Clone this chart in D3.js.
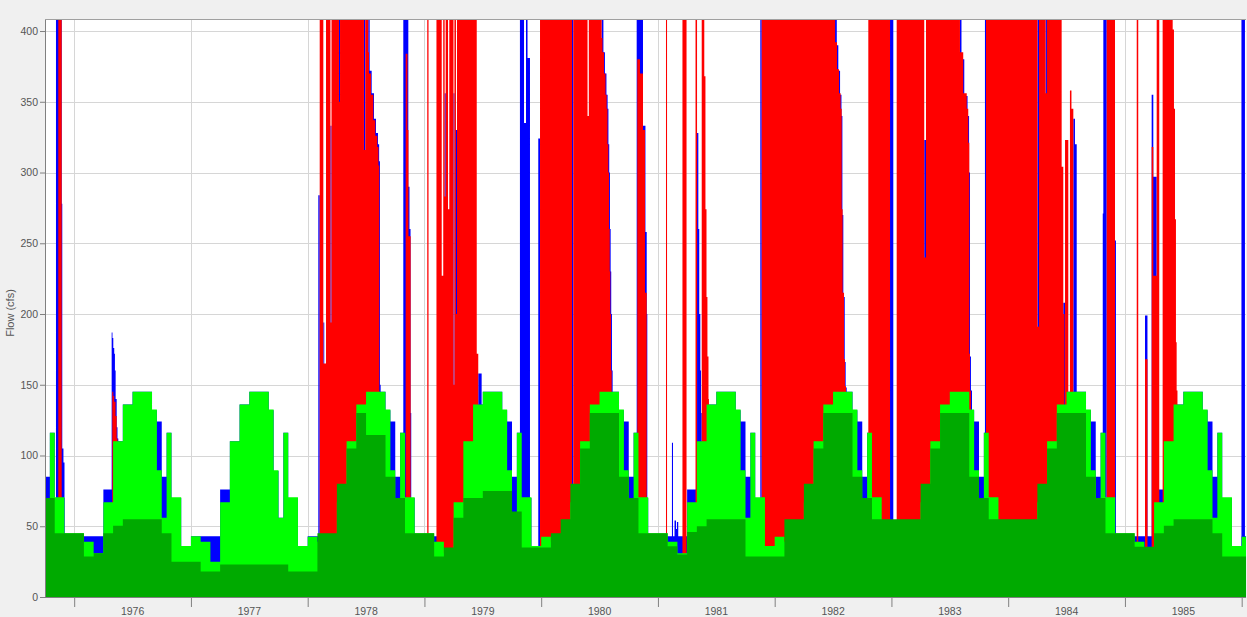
<!DOCTYPE html>
<html>
<head>
<meta charset="utf-8">
<script src="https://cdn.jsdelivr.net/npm/d3@7/dist/d3.min.js"></script>
<style>
  body { margin: 0; background: #f0f0f0; }
  svg { display: block; font-family: "Liberation Sans", Arial, sans-serif; }
</style>
</head>
<body>
<svg id="chart"></svg>
<script>
// time is in decimal years; water year rows run Oct 1, Oct 16, Nov 1 ... Sep 16 (half months)
var firstPeriod = 1975.75;
var lastTime = 1986.037;
var yearTicks = [1976, 1977, 1978, 1979, 1980, 1981, 1982, 1983, 1984, 1985, 1986];
var yearLabels = ["1976", "1977", "1978", "1979", "1980", "1981", "1982", "1983", "1984", "1985"];
var flowTicks = [0, 50, 100, 150, 200, 250, 300, 350, 400];

// light green step series (cfs), one row per water year
var lightGreenFlow = [
  [56,116, 70.5,70.5, 45,45, 45,45, 39,39, 31,31, 67,67, 110,110, 136,136, 145,145, 145,145, 132.5,89.5], // WY1976
  [56,116, 70.5,70.5, 36,36, 43,43, 39,39, 25,25, 67,67, 110,110, 136,136, 145,145, 145,145, 132.5,89.5], // WY1977
  [56,116, 70.5,70.5, 36,36, 42.5,42.5, 39,39, 31,31, 67,67, 110,110, 136,136, 145,145, 145,145, 132.5,89.5],
  [56,116, 70.5,70.5, 45,45, 45,45, 39,39, 31,31, 67,67, 110,110, 136,136, 145,145, 145,145, 132.5,89.5],
  [56,116, 70.5,70.5, 36,36, 42.5,42.5, 39,39, 31,31, 67,67, 110,110, 136,136, 145,145, 145,145, 132.5,89.5],
  [56,116, 70.5,70.5, 45,45, 45,45, 39,39, 31,31, 67,67, 110,110, 136,136, 145,145, 145,145, 132.5,89.5],
  [56,116, 70.5,70.5, 36,36, 42.5,42.5, 39,39, 31,31, 67,67, 110,110, 136,136, 145,145, 145,145, 132.5,89.5],
  [56,116, 70.5,70.5, 45,45, 45,45, 39,39, 31,31, 67,67, 110,110, 136,136, 145,145, 145,145, 132.5,89.5],
  [56,116, 70.5,70.5, 45,45, 45,45, 39,39, 31,31, 67,67, 110,110, 136,136, 145,145, 145,145, 132.5,89.5],
  [56,116, 70.5,70.5, 45,45, 45,45, 39,39, 31,31, 67,67, 110,110, 136,136, 145,145, 145,145, 132.5,89.5], // WY1985
  [56,116, 70.5,70.5, 36,36, 42.5]                                                                        // WY1986 (part)
];

// dark green step series (cfs)
var darkGreenFlow = [
  [70,70, 45,45, 45,45, 45,45, 28.7,28.7, 31,31, 45,45, 50.4,50.4, 55,55, 55,55, 55,55, 55,55],
  [45,45, 25,25, 25,25, 25,25, 18,18, 18,18, 23,23, 23,23, 23,23, 23,23, 23,23, 23,23],
  [23,23, 18,18, 18,18, 18,18, 45,45, 45,45, 80,80, 105,105, 130,130, 114.5,114.5, 114.5,114.5, 85,85],
  [70,70, 45,45, 45,45, 45,45, 28.7,28.7, 35,35, 56,56, 70,70, 70,70, 75,75, 75,75, 75,75],
  [60.5,60.5, 35,35, 35,35, 35,35, 45,45, 55,55, 80,80, 105,105, 130,130, 130,130, 130,130, 85,85],
  [70,70, 45,45, 45,45, 45,45, 35.8,35.8, 30,30, 46,46, 50,50, 55,55, 55,55, 55,55, 55,55],
  [28.7,28.7, 28.7,28.7, 28.7,28.7, 28.7,28.7, 55,55, 55,55, 80,80, 105,105, 130,130, 130,130, 130,130, 85,85],
  [70,70, 55,55, 55,55, 55,55, 55,55, 55,55, 80,80, 105,105, 130,130, 130,130, 130,130, 85,85],
  [70,70, 55,55, 55,55, 55,55, 55,55, 55,55, 80,80, 105,105, 130,130, 130,130, 130,130, 85,85],
  [70,70, 45,45, 45,45, 45,45, 35.5,35.5, 35.5,35.5, 45,45, 50.4,50.4, 55,55, 55,55, 55,55, 55,55],
  [45,45, 28.7,28.7, 28.7,28.7, 28.7]
];

// blue base flow (cfs), half-monthly
var blueBaseFlow = [
  [85,116, 70,70, 36,36, 43,43, 43,43, 43,43, 76,76, 110,110, 136,136, 145,145, 145,145, 132,124],
  [85,116, 70,70, 36,36, 43,43, 43,43, 43,43, 76,76, 110,110, 136,136, 145,145, 145,145, 132,89],
  [56,116, 70,70, 36,36, 43,43, 43,43, 43,43, 76,76, 110,110, 136,136, 145,145, 145,145, 132,124],
  [85,116, 70,70, 36,36, 43,43, 43,43, 43,43, 76,76, 110,110, 136,136, 145,145, 145,145, 132,124],
  [85,116, 70,70, 36,36, 43,43, 43,43, 43,43, 76,76, 110,110, 136,136, 145,145, 145,145, 132,124],
  [85,116, 70,70, 36,36, 43,43, 43,43, 43,43, 76,76, 110,110, 136,136, 145,145, 145,145, 132,124],
  [85,116, 70,70, 36,36, 43,43, 43,43, 43,43, 76,76, 110,110, 136,136, 145,145, 145,145, 132,124],
  [85,116, 70,70, 36,36, 43,43, 43,43, 43,43, 76,76, 110,110, 136,136, 145,145, 145,145, 132,124],
  [85,116, 70,70, 36,36, 43,43, 43,43, 43,43, 76,76, 110,110, 136,136, 145,145, 145,145, 132,124],
  [85,116, 70,70, 36,36, 43,43, 43,43, 43,43, 76,76, 110,110, 136,136, 145,145, 145,145, 132,124],
  [85,116, 70,70, 36,36, 43]
];

// storm flows, [time, cfs]; 500 = off the top of the chart
var redFlowPts = [
  [1975.864,500],[1975.893,0],
  [1976.326,145],[1976.335,142],[1976.343,138],[1976.354,128],[1976.364,112],[1976.371,0],
  [1978.103,500],[1978.134,165],[1978.157,500],[1978.195,194],[1978.204,500],[1978.268,350],[1978.277,500],
  [1978.482,316],[1978.493,500],[1978.519,385],[1978.525,370],[1978.542,355],[1978.562,337],[1978.579,326],
  [1978.596,318],[1978.606,305],[1978.613,145],[1978.619,0],
  [1978.839,384],[1978.855,330],[1978.863,255],[1978.882,0],
  [1979.024,500],[1979.035,0],
  [1979.103,500],[1979.148,227],[1979.161,500],[1979.173,283],[1979.182,500],[1979.202,274],[1979.213,500],
  [1979.249,150],[1979.257,500],[1979.270,200],[1979.279,500],[1979.448,172],[1979.461,0],
  [1979.990,500],[1980.264,0],[1980.275,500],[1980.397,340],[1980.408,500],[1980.518,395],[1980.525,385],
  [1980.538,370],[1980.551,355],[1980.561,345],[1980.568,320],[1980.575,300],[1980.581,260],[1980.587,230],
  [1980.592,200],[1980.598,160],[1980.604,130],[1980.611,0],
  [1980.823,380],[1980.846,370],[1980.872,330],[1980.889,215],[1980.904,0],
  [1981.069,500],[1981.078,0],
  [1981.210,500],[1981.245,0],
  [1981.322,500],[1981.335,0],[1981.375,500],[1981.397,368],[1981.407,274],[1981.416,212],[1981.424,170],
  [1981.433,140],[1981.437,0],
  [1981.889,500],[1982.517,392],[1982.534,373],[1982.551,356],[1982.565,345],[1982.574,274],[1982.582,215],
  [1982.594,168],[1982.602,149],[1982.611,0],
  [1982.802,500],[1982.988,0],[1983.045,500],[1983.281,240],[1983.296,500],[1983.587,385],[1983.615,356],
  [1983.645,345],[1983.658,321],[1983.667,172],[1983.673,146],[1983.681,0],
  [1983.810,500],[1984.251,191],[1984.264,500],[1984.321,356],[1984.332,500],[1984.458,304],[1984.472,200],
  [1984.482,0],[1984.487,323],[1984.515,0],[1984.529,358],[1984.542,345],[1984.558,0],
  [1984.844,500],[1984.915,0],
  [1985.101,500],[1985.114,0],
  [1985.172,168],[1985.193,0],
  [1985.229,318],[1985.243,227],[1985.272,500],[1985.294,0],[1985.323,500],[1985.409,401],[1985.420,345],
  [1985.429,267],[1985.437,180],[1985.443,146],[1985.450,0]
];

var blueFlowPts = [
  [1975.844,500],[1975.893,278],[1975.898,105],[1975.908,95],[1975.917,0],
  [1976.321,187],[1976.328,183],[1976.335,176],[1976.343,172],[1976.349,160],[1976.355,140],[1976.364,120],
  [1976.371,112],[1976.378,0],
  [1978.091,284],[1978.103,0],[1978.134,194],[1978.142,0],[1978.195,333],[1978.204,0],[1978.268,500],[1978.277,0],
  [1978.482,500],[1978.493,0],[1978.519,500],[1978.531,372],[1978.548,356],[1978.568,338],[1978.585,328],
  [1978.602,320],[1978.612,308],[1978.619,150],[1978.625,0],
  [1978.819,500],[1978.862,290],[1978.872,260],[1978.881,130],[1978.887,0],
  [1979.173,356],[1979.182,0],[1979.249,356],[1979.257,0],[1979.270,330],[1979.279,0],[1979.461,158],[1979.490,0],
  [1979.818,500],[1979.853,335],[1979.870,500],[1979.883,381],[1979.904,0],
  [1979.975,324],[1979.990,0],
  [1980.264,500],[1980.275,0],
  [1980.518,500],[1980.533,385],[1980.546,370],[1980.559,355],[1980.569,345],[1980.576,320],[1980.583,300],
  [1980.589,260],[1980.595,230],[1980.600,200],[1980.606,160],[1980.612,130],[1980.619,0],
  [1980.818,500],[1980.872,333],[1980.893,258],[1980.904,200],[1980.909,0],
  [1981.120,109],[1981.129,0],[1981.142,54],[1981.155,48],[1981.163,53],[1981.174,0],
  [1981.335,328],[1981.346,260],[1981.354,200],[1981.363,160],[1981.369,130],[1981.375,0],
  [1981.877,500],[1981.889,0],
  [1982.517,500],[1982.532,390],[1982.545,372],[1982.560,355],[1982.572,340],[1982.580,270],[1982.588,212],
  [1982.600,166],[1982.608,148],[1982.617,0],
  [1982.988,500],[1983.016,0],[1983.281,323],[1983.296,0],[1983.587,500],[1983.600,380],[1983.624,354],
  [1983.652,340],[1983.665,300],[1983.673,170],[1983.681,146],[1983.690,0],
  [1983.801,500],[1983.810,0],[1984.251,500],[1984.264,0],[1984.321,500],[1984.332,0],[1984.472,208],[1984.487,0],
  [1984.558,338],[1984.572,320],[1984.587,0],
  [1984.810,271],[1984.815,500],[1984.844,0],[1984.915,252],[1984.923,0],
  [1985.172,199],[1985.193,0],
  [1985.229,355],[1985.243,297],[1985.272,0],
  [1985.998,500],[1986.028,0]
];

var svgWidth = 1247, svgHeight = 617;
var plotLeft = 45, plotRight = 1246, plotTop = 19, plotBottom = 597;

var x = d3.scaleLinear().domain([firstPeriod, lastTime]).range([plotLeft, plotRight]);
var y = d3.scaleLinear().domain([0, 408.5]).range([plotBottom, plotTop]);

// half-month rows -> step points
function halfMonthPoints(rows) {
  var flat = rows.flat();
  var pts = flat.map(function(v, i) { return [firstPeriod + i / 24, v]; });
  pts.push([lastTime, flat[flat.length - 1]]);
  return pts;
}
function eventPoints(pts) {
  return [[firstPeriod, 0]].concat(pts, [[lastTime, 0]]);
}

var svg = d3.select("#chart").attr("width", svgWidth).attr("height", svgHeight);

svg.append("rect").attr("width", svgWidth).attr("height", svgHeight).attr("fill", "#f0f0f0");
svg.append("rect")
  .attr("x", plotLeft).attr("y", plotTop)
  .attr("width", plotRight - plotLeft).attr("height", plotBottom - plotTop)
  .attr("fill", "#ffffff");

svg.append("clipPath").attr("id", "plotClip")
  .append("rect")
  .attr("x", plotLeft).attr("y", plotTop)
  .attr("width", plotRight - plotLeft).attr("height", plotBottom - plotTop);

// grid
var grid = svg.append("g").attr("stroke", "#d6d6d6").attr("shape-rendering", "crispEdges");
grid.selectAll("line.h").data(flowTicks.slice(1)).enter().append("line")
  .attr("x1", plotLeft).attr("x2", plotRight)
  .attr("y1", function(d) { return Math.round(y(d)) + 0.5; })
  .attr("y2", function(d) { return Math.round(y(d)) + 0.5; });
grid.selectAll("line.v").data(yearTicks).enter().append("line")
  .attr("y1", plotTop).attr("y2", plotBottom)
  .attr("x1", function(d) { return Math.round(x(d)) + 0.5; })
  .attr("x2", function(d) { return Math.round(x(d)) + 0.5; });

var area = d3.area()
  .curve(d3.curveStepAfter)
  .x(function(d) { return x(d[0]); })
  .y0(y(0))
  .y1(function(d) { return y(d[1]); });

var layers = [
  { pts: halfMonthPoints(blueBaseFlow), color: "#0000ff" },
  { pts: eventPoints(blueFlowPts), color: "#0000ff" },
  { pts: eventPoints(redFlowPts), color: "#ff0000" },
  { pts: halfMonthPoints(lightGreenFlow), color: "#00ff00" },
  { pts: halfMonthPoints(darkGreenFlow), color: "#00aa00" }
];

svg.append("g").attr("clip-path", "url(#plotClip)")
  .selectAll("path")
  .data(layers)
  .enter()
  .append("path")
  .attr("d", function(d) { return area(d.pts); })
  .attr("fill", function(d) { return d.color; });

// axes
var axisColor = "#808080", textColor = "#555555";

var yAxis = svg.append("g")
  .attr("transform", "translate(" + plotLeft + ",0)")
  .call(d3.axisLeft(y).tickValues(flowTicks).tickSize(5).tickPadding(2).tickFormat(d3.format("d")));
yAxis.select(".domain").remove();
yAxis.selectAll("line").attr("stroke", axisColor);
yAxis.selectAll("text").attr("fill", textColor).attr("font-size", 10.5)
  .attr("font-family", "Liberation Sans, Arial, sans-serif");

var xAxis = svg.append("g")
  .attr("transform", "translate(0," + plotBottom + ")")
  .call(d3.axisBottom(x).tickValues(yearTicks).tickSize(10).tickFormat(""));
xAxis.select(".domain").remove();
xAxis.selectAll("line").attr("stroke", axisColor);

svg.append("g").selectAll("text")
  .data(yearLabels)
  .enter()
  .append("text")
  .attr("x", function(d) { return x(+d + 0.5); })
  .attr("y", 615)
  .attr("text-anchor", "middle")
  .attr("font-size", 10.5)
  .attr("fill", textColor)
  .text(function(d) { return d; });

// frame lines
svg.append("line").attr("x1", plotLeft + 0.5).attr("x2", plotLeft + 0.5)
  .attr("y1", plotTop).attr("y2", plotBottom + 1).attr("stroke", axisColor);
svg.append("line").attr("x1", plotLeft).attr("x2", plotRight)
  .attr("y1", plotBottom + 0.5).attr("y2", plotBottom + 0.5).attr("stroke", axisColor);
svg.append("line").attr("x1", plotLeft).attr("x2", plotRight)
  .attr("y1", plotTop + 0.5).attr("y2", plotTop + 0.5).attr("stroke", "#a0a0a0");

svg.append("text")
  .attr("transform", "translate(14,313) rotate(-90)")
  .attr("text-anchor", "middle")
  .attr("font-size", 11)
  .attr("fill", textColor)
  .text("Flow (cfs)");
</script>
</body>
</html>
